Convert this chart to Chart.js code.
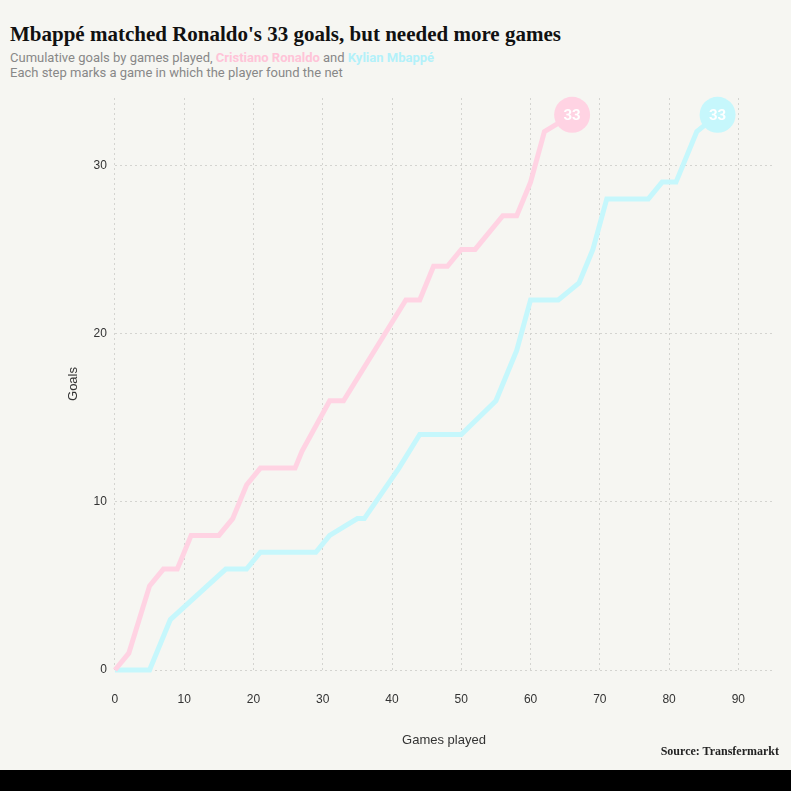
<!DOCTYPE html>
<html lang="en">
<head>
    <meta charset="UTF-8">
    <title>Mbappé vs Ronaldo - goals by games played</title>
    <style>
        html, body { margin: 0; padding: 0; background: #f6f6f2; }
        body { width: 791px; height: 791px; position: relative; overflow: hidden; font-family: Roboto, Arial, sans-serif; }
        #title { position: absolute; left: 10px; top: 22px; font-family: "Liberation Serif", "DejaVu Serif", serif; font-weight: bold; font-size: 21px; color: #111; white-space: nowrap; }
        #subtitle { position: absolute; left: 10px; top: 50px; font-size: 13px; color: #888; line-height: 15px; }
        #subtitle .cr { color: #ffc4d8; font-weight: bold; }
        #subtitle .km { color: #b3f1fa; font-weight: bold; }
        #chartBox { position: absolute; left: 0; top: 80px; width: 791px; height: 682px; }
        #source { position: absolute; right: 12px; top: 744px; font-family: "Liberation Serif", serif; font-weight: bold; font-size: 12px; color: #222; }
        #bar { position: absolute; left: 0; top: 770px; width: 791px; height: 21px; background: #000; }
    </style>
    <script src="https://cdn.jsdelivr.net/npm/chart.js"></script>
</head>
<body>
    <div id="title">Mbappé matched Ronaldo's 33 goals, but needed more games</div>
    <div id="subtitle">Cumulative goals by games played, <span class="cr">Cristiano Ronaldo</span> and <span class="km">Kylian Mbappé</span><br>Each step marks a game in which the player found the net</div>
    <div id="chartBox"><canvas id="goalsChart"></canvas></div>
    <div id="source">Source: Transfermarkt</div>
    <div id="bar"></div>

    <script>
        // values (games played, cumulative goals)
        const ronaldoGames = [0, 2, 5, 7, 9, 11, 15, 17, 19, 21, 26, 27, 31, 33, 39, 42, 44, 46, 48, 50, 52, 56, 58, 60, 62, 66];
        const ronaldoGoals = [0, 1, 5, 6, 6, 8, 8, 9, 11, 12, 12, 13, 16, 16, 20, 22, 22, 24, 24, 25, 25, 27, 27, 29, 32, 33];

        const mbappeGames = [0, 5, 8, 16, 19, 21, 29, 31, 35, 36, 41, 44, 50, 55, 58, 60, 64, 67, 69, 71, 77, 79, 81, 84, 87];
        const mbappeGoals = [0, 0, 3, 6, 6, 7, 7, 8, 9, 9, 12, 14, 14, 16, 19, 22, 22, 23, 25, 28, 28, 29, 29, 32, 33];

        const xTicks = [0, 10, 20, 30, 40, 50, 60, 70, 80, 90];
        const yTicks = [0, 10, 20, 30];

        const pink = '#ffd3e3';
        const cyan = '#c6f7fc';

        function toPoints(xs, ys) {
            return xs.map((x, i) => ({ x: x, y: ys[i] }));
        }

        // only the last point gets a big round marker
        function endRadius(arr) {
            return arr.map((v, i) => i === arr.length - 1 ? 18 : 0);
        }

        // writes the final tally inside the end marker
        const endLabels = {
            id: 'endLabels',
            afterDatasetsDraw(chart) {
                const ctx = chart.ctx;
                chart.data.datasets.forEach((ds, i) => {
                    const meta = chart.getDatasetMeta(i);
                    const last = meta.data[meta.data.length - 1];
                    const val = ds.data[ds.data.length - 1].y;
                    ctx.save();
                    ctx.fillStyle = '#ffffff';
                    ctx.font = 'bold 15px Roboto, Arial, sans-serif';
                    ctx.textAlign = 'center';
                    ctx.textBaseline = 'middle';
                    ctx.fillText(String(val), last.x, last.y + 1);
                    ctx.restore();
                });
            }
        };

        const ctx = document.getElementById('goalsChart').getContext('2d');
        new Chart(ctx, {
            type: 'line',
            data: {
                datasets: [
                    {
                        label: 'Cristiano Ronaldo',
                        data: toPoints(ronaldoGames, ronaldoGoals),
                        borderColor: pink,
                        backgroundColor: pink,
                        borderWidth: 5,
                        pointRadius: endRadius(ronaldoGames),
                        pointBorderWidth: 0,
                        tension: 0
                    },
                    {
                        label: 'Kylian Mbappé',
                        data: toPoints(mbappeGames, mbappeGoals),
                        borderColor: cyan,
                        backgroundColor: cyan,
                        borderWidth: 5,
                        pointRadius: endRadius(mbappeGames),
                        pointBorderWidth: 0,
                        tension: 0
                    }
                ]
            },
            options: {
                responsive: true,
                maintainAspectRatio: false,
                animation: false,
                clip: false,
                layout: { padding: { left: 62, right: 2, top: 0, bottom: 0 } },
                plugins: {
                    legend: { display: false },
                    tooltip: { enabled: false }
                },
                scales: {
                    x: {
                        type: 'linear',
                        min: 0,
                        max: 95,
                        afterBuildTicks: axis => { axis.ticks = xTicks.map(v => ({ value: v })); },
                        grid: { color: '#d4d4d0', lineWidth: 1, drawTicks: false },
                        border: { display: false, dash: [2, 3] },
                        ticks: { color: '#333', font: { size: 12 }, padding: 22 },
                        title: { display: true, text: 'Games played', color: '#333', font: { size: 13 }, padding: { top: 4, bottom: 14 } }
                    },
                    y: {
                        min: 0,
                        max: 34,
                        afterBuildTicks: axis => { axis.ticks = yTicks.map(v => ({ value: v })); },
                        grid: { color: '#d4d4d0', lineWidth: 1, drawTicks: false },
                        border: { display: false, dash: [2, 3] },
                        ticks: { color: '#333', font: { size: 12 }, padding: 8 },
                        title: { display: true, text: 'Goals', color: '#333', font: { size: 13 } }
                    }
                }
            },
            plugins: [endLabels]
        });
    </script>
</body>
</html>
